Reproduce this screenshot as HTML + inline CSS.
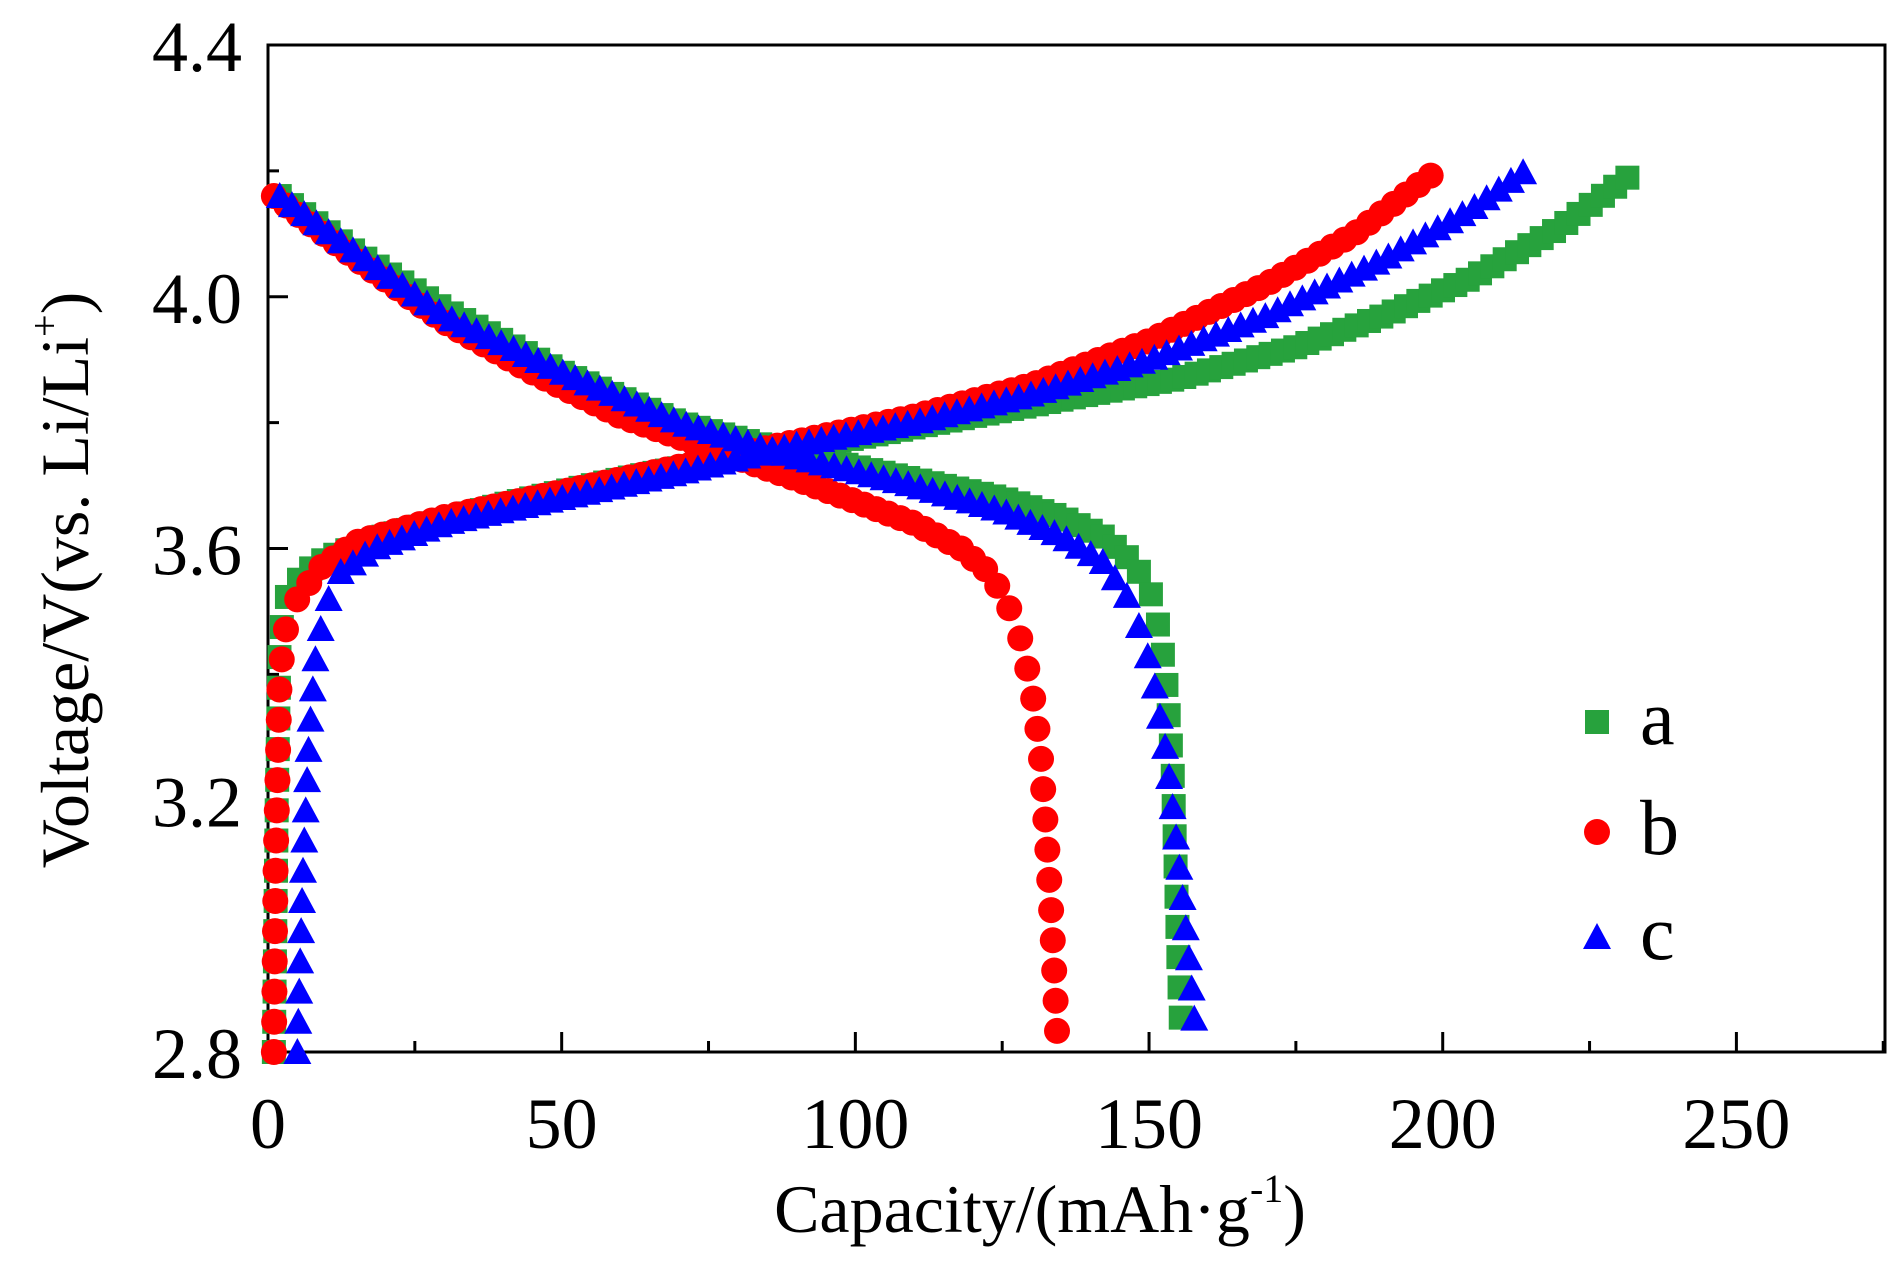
<!DOCTYPE html>
<html><head><meta charset="utf-8"><style>
html,body{margin:0;padding:0;background:#fff;}
svg{display:block;font-family:"Liberation Serif",serif;}
</style></head><body>
<svg id="chart" width="1896" height="1279" viewBox="0 0 1896 1279">
<g id="axes"></g><g id="marks"></g><g id="legend"></g>
<text x="1040" y="1232" font-size="68" text-anchor="middle">Capacity/(mAh·g<tspan font-size="40" dy="-30">-1</tspan><tspan dy="30">)</tspan></text>
<text transform="translate(88,580) rotate(-90)" font-size="68" text-anchor="middle">Voltage/V(vs. Li/Li<tspan font-size="40" dy="-30">+</tspan><tspan dy="30">)</tspan></text>
</svg>
<script>
const xTicks=[0,50,100,150,200,250];
const yTicks=[2.8,3.2,3.6,4.0,4.4];
const seriesNames=["a","b","c"];
const seriesColors=["#27a23d","#ff0000","#0000ff"];
const aCharge=[[1,2.8],[1.5,3.2],[2,3.45],[3,3.52],[6,3.56],[10,3.585],[20,3.62],[40,3.67],[60,3.71],[80,3.745],[100,3.775],[120,3.81],[140,3.845],[155,3.87],[175,3.92],[190,3.97],[205,4.03],[220,4.11],[233,4.2]];
const aDischarge=[[2,4.16],[15,4.07],[30,3.98],[50,3.88],[70,3.8],[90,3.75],[110,3.71],[125,3.68],[135,3.65],[142,3.62],[147,3.58],[150,3.54],[152,3.46],[153,3.38],[154,3.25],[154.5,3.1],[155,2.95],[155.5,2.83]];
const bCharge=[[1,2.8],[1.3,3.1],[2,3.4],[3,3.47],[5,3.52],[9,3.57],[15,3.61],[30,3.65],[50,3.69],[70,3.73],[90,3.77],[110,3.81],[130,3.86],[150,3.93],[170,4.02],[185,4.1],[199,4.2]];
const bDischarge=[[1,4.16],[15,4.06],[30,3.96],[45,3.88],[60,3.81],[75,3.76],[90,3.71],[100,3.675],[110,3.64],[118,3.6],[123,3.56],[126,3.51],[128,3.46],[130,3.38],[131.5,3.28],[132.5,3.15],[133.5,3.0],[134,2.9],[134.5,2.8]];
const cCharge=[[5,2.8],[5.5,2.95],[6,3.1],[7,3.3],[8,3.42],[9.5,3.5],[12,3.56],[18,3.6],[30,3.64],[50,3.68],[70,3.72],[90,3.765],[110,3.8],[130,3.845],[150,3.9],[170,3.97],[190,4.06],[205,4.14],[214,4.2]];
const cDischarge=[[2,4.16],[15,4.07],[30,3.97],[50,3.88],[70,3.8],[90,3.745],[110,3.7],[125,3.66],[135,3.62],[142,3.58],[146,3.53],[149,3.46],[151,3.38],[153,3.27],[154.5,3.15],[156,3.02],[157,2.93],[158,2.82]];
const NS="http://www.w3.org/2000/svg";
const X0=268,X1=1885,Y0=1052,Y1=45,XMAX=275.3,YMIN=2.8,YMAX=4.4;
function sx(v){return X0+(v/XMAX)*(X1-X0);}
function sy(v){return Y0-(v-YMIN)/(YMAX-YMIN)*(Y0-Y1);}
function mk(tag,attrs,parent){const e=document.createElementNS(NS,tag);for(const k in attrs)e.setAttribute(k,attrs[k]);parent.appendChild(e);return e;}
const axes=document.getElementById('axes');
const frame=mk('rect',{x:X0,y:Y1,width:X1-X0,height:Y0-Y1,fill:'none',stroke:'#000','stroke-width':3},axes);


for(let v=0;v<=275;v+=25){const major=v%50===0;
 const t=mk('line',{x1:sx(v),x2:sx(v),y1:Y0,y2:Y0-(major?20:11),stroke:'#000','stroke-width':3},axes);
 
 }
xTicks.forEach(v=>{const t=mk('text',{x:sx(v),y:Y0+96,'font-size':72,'text-anchor':'middle'},axes);t.textContent=v;
 
 });
for(let i=0;i<=8;i++){const v=2.8+i*0.2;const major=i%2===0;
 const t=mk('line',{x1:X0,x2:X0+(major?20:11),y1:sy(v),y2:sy(v),stroke:'#000','stroke-width':3},axes);
 
 }
yTicks.forEach(v=>{const t=mk('text',{x:X0-26,y:sy(v)+26,'font-size':72,'text-anchor':'end'},axes);t.textContent=v.toFixed(1);
 
 });
const marks=document.getElementById('marks');
function marker(kind,x,y,color,parent){
 if(kind===0)return mk('rect',{x:x-12,y:y-12,width:24,height:24,fill:color},parent);
 if(kind===1)return mk('circle',{cx:x,cy:y,r:13,fill:color},parent);
 return mk('polygon',{points:`${x},${y-14} ${x+14},${y+12} ${x-14},${y+12}`,fill:color},parent);}
function drawCurve(data,kind,color,name){
 const g=mk('g',{},marks);
 
 
 let pts=data.map(d=>[sx(d[0]),sy(d[1])]);
 let px=pts[0][0],py=pts[0][1];
 marker(kind,px,py,color,g);
 for(let i=1;i<pts.length;i++){
  const [ax,ay]=pts[i-1],[bx,by]=pts[i];
  const n=200;
  for(let k=1;k<=n;k++){const x=ax+(bx-ax)*k/n,y=ay+(by-ay)*k/n;
   if(Math.max(Math.abs(x-px)/12,Math.abs(y-py)/30)>=1){marker(kind,x,y,color,g);px=x;py=y;}}
 }}
drawCurve(aCharge,0,seriesColors[0],'series-a-charge');
drawCurve(aDischarge,0,seriesColors[0],'series-a-discharge');
drawCurve(bCharge,1,seriesColors[1],'series-b-charge');
drawCurve(bDischarge,1,seriesColors[1],'series-b-discharge');
drawCurve(cCharge,2,seriesColors[2],'series-c-charge');
drawCurve(cDischarge,2,seriesColors[2],'series-c-discharge');
const legend=document.getElementById('legend');
const legY=[722,832,937];
seriesNames.forEach((n,i)=>{
 const g=mk('g',{},legend);
 
 
 marker(i,1597,legY[i],seriesColors[i],g);
 const t=mk('text',{x:1640,y:legY[i]+22,'font-size':78},g);t.textContent=n;});
</script>
</body></html>
